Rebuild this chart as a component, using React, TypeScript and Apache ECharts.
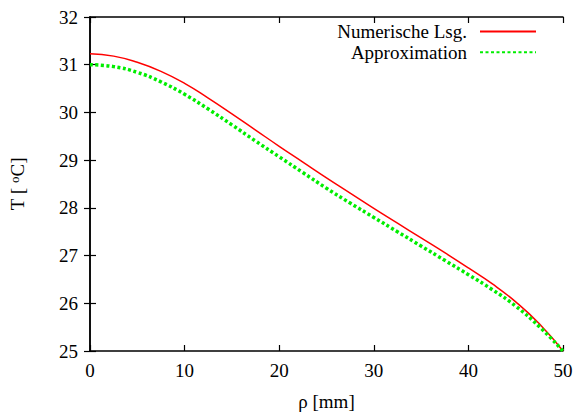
import React, { useEffect, useRef } from "react";
import * as echarts from "echarts";

const rho = [0, 2.5, 5, 7.5, 10, 12.5, 15, 17.5, 20, 22.5, 25, 27.5, 30, 32.5, 35, 37.5, 40, 42.5, 45, 47.5, 50];
const numerisch = [31.23, 31.18, 31.05, 30.86, 30.61, 30.3, 29.97, 29.63, 29.29, 28.96, 28.63, 28.31, 27.99, 27.68, 27.37, 27.06, 26.74, 26.41, 26.03, 25.57, 25.0];
const approx = [31.0, 30.96, 30.84, 30.64, 30.38, 30.07, 29.74, 29.4, 29.07, 28.74, 28.41, 28.1, 27.8, 27.5, 27.2, 26.9, 26.6, 26.29, 25.94, 25.51, 25.0];
const xTicks = { min: 0, max: 50, interval: 10 };
const yTicks = { min: 25, max: 32, interval: 1 };
const seriesNames = ["Numerische Lsg.", "Approximation"];

const FONT = "Liberation Serif";

export default function App() {
  const ref = useRef<HTMLDivElement>(null);
  useEffect(() => {
    if (!ref.current) return;
    const chart = echarts.init(ref.current, null, { renderer: "svg" });
    const axisLine = { show: true, lineStyle: { color: "#000", width: 1.5 } };
    const tick = { show: true, inside: true, length: 6, lineStyle: { color: "#000", width: 1.2 } };
    const label = { color: "#000", fontFamily: FONT, fontSize: 19 };
    const legendBase = {
      orient: "vertical",
      right: 39,
      align: "right",
      padding: 0,
      itemWidth: 56,
      itemHeight: 20,
      itemStyle: { opacity: 0 },
      textStyle: { color: "#000", fontFamily: FONT, fontSize: 19, padding: [0, 8, 0, 0] },
    };
    chart.setOption({
      animation: false,
      backgroundColor: "#fff",
      textStyle: { fontFamily: FONT, fontSize: 19, color: "#000" },
      grid: { left: 87, right: 13, top: 17, bottom: 64 },
      legend: [
        { ...legendBase, top: 22, data: [seriesNames[0]] },
        { ...legendBase, top: 42.7, data: [seriesNames[1]] },
      ],
      xAxis: [
        {
          type: "value",
          ...xTicks,
          name: "ρ [mm]",
          nameLocation: "middle",
          nameGap: 41,
          nameTextStyle: { color: "#000", fontFamily: FONT, fontSize: 19 },
          axisLine,
          axisTick: tick,
          axisLabel: { ...label, margin: 10 },
          splitLine: { show: false },
        },
        {
          type: "value",
          ...xTicks,
          position: "top",
          axisLine,
          axisTick: tick,
          axisLabel: { show: false },
          splitLine: { show: false },
        },
      ],
      yAxis: [
        {
          type: "value",
          ...yTicks,
          name: "T [ {s|o}C]",
          nameLocation: "middle",
          nameGap: 63,
          nameTextStyle: {
            color: "#000",
            fontFamily: FONT,
            fontSize: 19,
            rich: { s: { fontFamily: FONT, fontSize: 13, color: "#000", verticalAlign: "top", lineHeight: 14 } },
          },
          axisLine,
          axisTick: tick,
          axisLabel: { ...label, margin: 12 },
          splitLine: { show: false },
        },
        {
          type: "value",
          ...yTicks,
          position: "right",
          axisLine,
          axisTick: tick,
          axisLabel: { show: false },
          splitLine: { show: false },
        },
      ],
      series: [
        {
          name: seriesNames[0],
          type: "line",
          data: rho.map((r, i) => [r, numerisch[i]]),
          symbol: "none",
          smooth: true,
          lineStyle: { color: "#ff0000", width: 1.5 },
          itemStyle: { color: "#ff0000" },
        },
        {
          name: seriesNames[1],
          type: "line",
          data: rho.map((r, i) => [r, approx[i]]),
          symbol: "none",
          smooth: true,
          lineStyle: { color: "#00ee00", width: 3.5, type: [3, 2.5] },
          itemStyle: { color: "#00ee00" },
        },
      ],
    });
    return () => chart.dispose();
  }, []);
  return <div ref={ref} style={{ position: "fixed", left: 0, top: 0, width: 576, height: 416 }} />;
}
